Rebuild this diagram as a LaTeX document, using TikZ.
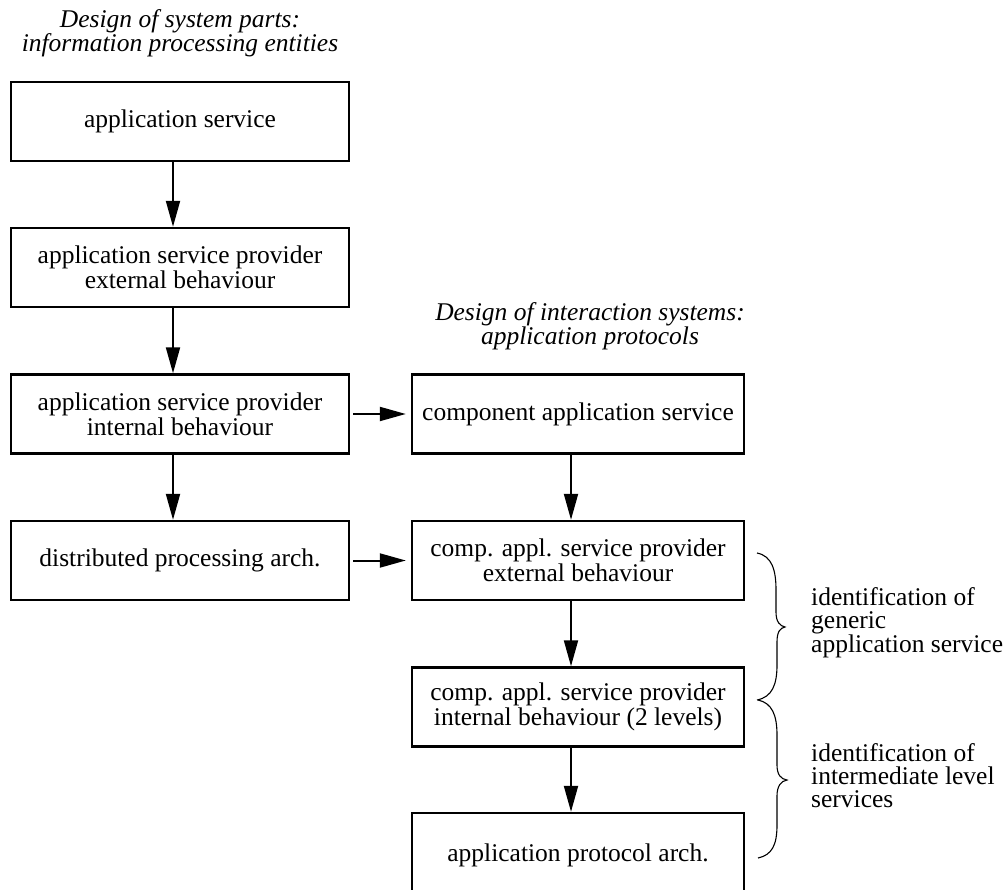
\documentclass[tikz,border=0pt]{standalone}
\usepackage{fontspec}
\setmainfont{Liberation Serif}
\usetikzlibrary{arrows.meta}
\begin{document}
\begin{tikzpicture}[x=1pt,y=-1pt,
  box/.style={draw,line width=2.4pt,inner sep=0pt,align=center,
    font=\fontsize{25.5}{25}\selectfont},
  lbox/.style={box,minimum width=338pt,minimum height=79pt},
  rbox/.style={box,minimum width=332pt,minimum height=79pt},
  flow/.style={line width=2pt,-{Triangle[length=26pt,width=14pt]}},
  heading/.style={font=\fontsize{25.5}{19}\itshape\selectfont,align=center,inner sep=0pt},
  note/.style={font=\fontsize{25.5}{23}\selectfont,align=left,inner sep=0pt,anchor=west},
  brace/.style={line width=1.1pt}]
\useasboundingbox (0,0) rectangle (1007,890);
\clip (0,0) rectangle (1007,890);

% column headings
\node[heading] (t1) at (180,33.5) {Design of system parts:\\information processing entities};
\node[heading] (t2) at (590,326.5) {Design of interaction systems:\\application protocols};

% left column: information processing entities
\node[lbox] (b1) at (180,121.5) {application service};
\node[lbox] (b2) at (180,267.5) {application service provider\\external behaviour};
\node[lbox] (b3) at (180,414) {application service provider\\internal behaviour};
\node[lbox] (b4) at (180,560.5) {distributed processing arch.};

% right column: application protocols
\node[rbox] (r1) at (578,414) {component application service};
\node[rbox] (r2) at (578,560.5) {comp. appl. service provider\\external behaviour};
\node[rbox] (r3) at (578,707) {comp. appl. service provider\\internal behaviour (2 levels)};
\node[rbox,minimum height=85pt] (r4) at (578,855.5) {application protocol arch.};

% vertical flow
\draw[flow] ([xshift=-7pt]b1.south) -- ([xshift=-7pt]b2.north);
\draw[flow] ([xshift=-7pt]b2.south) -- ([xshift=-7pt]b3.north);
\draw[flow] ([xshift=-7pt]b3.south) -- ([xshift=-7pt]b4.north);
\draw[flow] ([xshift=-7pt]r1.south) -- ([xshift=-7pt]r2.north);
\draw[flow] ([xshift=-7pt]r2.south) -- ([xshift=-7pt]r3.north);
\draw[flow] ([xshift=-7pt]r3.south) -- ([xshift=-7pt]r4.north);

% horizontal flow
\draw[flow] ([xshift=3pt]b3.east) -- ([xshift=-5pt]r1.west);
\draw[flow] ([xshift=3pt]b4.east) -- ([xshift=-5pt]r2.west);

% braces
\draw[brace] (757,553) .. controls (772,556) and (776,570) .. (776,590) -- (776,612)
  .. controls (776,622) and (780,626) .. (785,627)
  .. controls (780,628) and (777,632) .. (777,642) -- (777,665)
  .. controls (777,685) and (772,697) .. (757,700);
\draw[brace] (758,700) .. controls (772,703) and (777,715) .. (777,735) -- (777,765)
  .. controls (777,775) and (781,779) .. (787,780)
  .. controls (781,781) and (777,786) .. (777,796) -- (777,825)
  .. controls (777,845) and (772,855) .. (758,858);

% brace labels
\node[note] (n1) at (811,623) {identification of\\generic\\application service};
\node[note] (n2) at (811,776) {identification of\\intermediate level\\services};
\end{tikzpicture}
\end{document}
